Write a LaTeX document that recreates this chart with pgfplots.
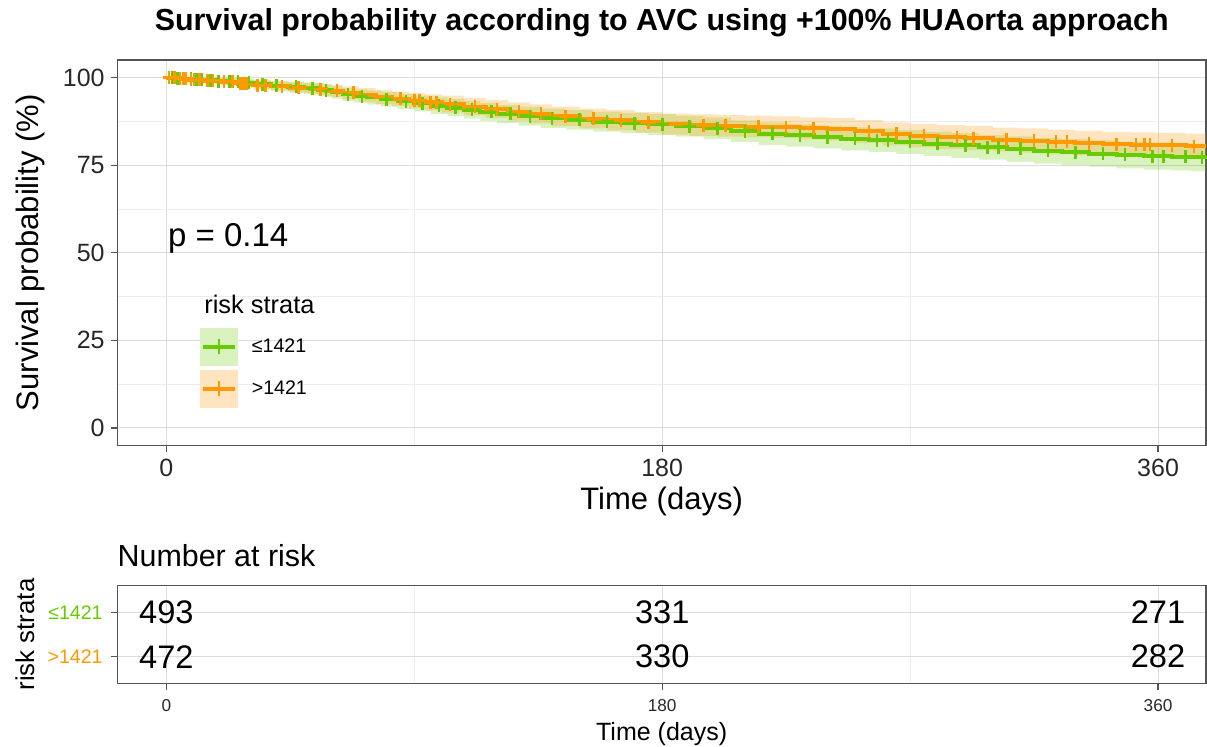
\documentclass[border=0pt]{standalone}
\usepackage{fontspec}
\setmainfont{Liberation Sans}
\usepackage{pgfplots}
\pgfplotsset{compat=1.18}
\usepgfplotslibrary{fillbetween}
\definecolor{cgreen}{RGB}{102,204,0}
\definecolor{corange}{RGB}{255,153,0}
\definecolor{gridc}{RGB}{220,220,220}
\definecolor{gridm}{RGB}{237,237,237}
\definecolor{framec}{RGB}{85,85,85}
\definecolor{tickc}{RGB}{40,40,40}
\begin{document}
\begin{tikzpicture}
% title
\node[anchor=base, font=\bfseries\fontsize{15.2}{18}\selectfont] at (330.85pt,358pt) {Survival probability according to AVC using +100\% HUAorta approach};
\begin{axis}[
  at={(58.65pt,150.75pt)}, anchor=south west, scale only axis,
  width=544.35pt, height=192.75pt,
  xmin=-17.8, xmax=377.4, ymin=-5, ymax=105,
  xtick={0,180,360}, ytick={0,25,50,75,100},
  minor xtick={90,270}, minor ytick={12.5,37.5,62.5,87.5},
  grid=both, major grid style={gridc, line width=0.5pt}, minor grid style={gridm, line width=0.4pt},
  axis line style={framec, line width=0.6pt},
  tick style={framec, line width=0.6pt}, tick align=outside,
  major tick length=3.3pt, minor tick length=0pt,
  xtick pos=lower, ytick pos=left,
  tick label style={font=\fontsize{12.5}{14}\selectfont, text=tickc},
  yticklabel style={xshift=0.5pt},
  /pgf/number format/assume math mode=true,
  xlabel={Time (days)}, ylabel={Survival probability (\%)},
  xlabel style={at={([yshift=-28.25pt]axis description cs:0.5,0)}, anchor=center, font=\fontsize{15.5}{18}\selectfont},
  ylabel style={at={([xshift=-43.65pt]axis description cs:0,0.5)}, anchor=center, font=\fontsize{15.5}{18}\selectfont},
  legend style={at={(axis description cs:0.076,0.3048)}, anchor=north west, draw=none, fill=none,
    inner sep=0pt, outer sep=0pt, row sep=2pt, column sep=7pt,
    nodes={inner sep=0pt}, font=\fontsize{9.8}{11}\selectfont},
  legend cell align=left,
]
% confidence bands
\addplot[name path=gU, draw=none, const plot, forget plot] coordinates {(0,100) (3,100) (6,100) (10,100) (14,100) (18,99.95) (22,99.85) (27,99.65) (32,99.35) (38,99.05) (44,98.8) (50,98.5) (55,98.1) (60,97.6) (64,97.05) (68,96.6) (73,96.3) (78,95.9) (84,95.35) (90,94.85) (96,94.35) (102,93.8) (108,93.3) (114,92.75) (120,92.2) (128,91.7) (136,91.15) (145,90.7) (155,90.25) (165,89.9) (175,89.6) (185,89.1) (195,88.6) (205,87.8) (215,87.2) (225,86.7) (235,86.25) (245,85.8) (255,85.45) (265,85.0) (275,84.55) (285,84.1) (295,83.65) (305,83.2) (315,82.75) (325,82.4) (335,82.05) (345,81.7) (355,81.45) (365,81.3) (372,81.1) (380,81.1)};
\addplot[name path=gL, draw=none, const plot, forget plot] coordinates {(0,100) (3,99.5) (6,99.15) (10,98.7) (14,98.4) (18,98.05) (22,97.75) (27,97.35) (32,96.85) (38,96.35) (44,95.8) (50,95.3) (55,94.7) (60,94.0) (64,93.35) (68,92.8) (73,92.3) (78,91.7) (84,91.05) (90,90.35) (96,89.65) (102,89.0) (108,88.3) (114,87.65) (120,87.0) (128,86.3) (136,85.65) (145,85.1) (155,84.55) (165,84.1) (175,83.6) (185,83.1) (195,82.4) (205,81.6) (215,80.8) (225,80.3) (235,79.75) (245,79.2) (255,78.75) (265,78.2) (275,77.65) (285,77.1) (295,76.55) (305,76.0) (315,75.45) (325,75.0) (335,74.55) (345,74.1) (355,73.75) (365,73.5) (372,73.3) (380,73.3)};
\addplot[cgreen, fill opacity=0.25, draw=none, forget plot] fill between[of=gU and gL];
\addplot[name path=oU, draw=none, const plot, forget plot] coordinates {(0,100) (4,100) (8,100) (14,99.9) (20,99.8) (26,99.3) (32,99.05) (38,98.85) (45,98.6) (52,98.3) (58,97.95) (64,97.45) (70,96.95) (76,96.45) (82,96.0) (88,95.6) (94,95.2) (100,94.8) (108,94.2) (116,93.55) (124,92.9) (132,92.3) (140,91.7) (150,91.15) (160,90.7) (170,90.15) (180,89.7) (190,89.45) (200,89.3) (210,89.1) (220,88.9) (230,88.65) (240,88.4) (250,87.85) (260,87.2) (270,86.75) (280,86.4) (290,86.1) (300,85.7) (310,85.45) (320,85.1) (330,84.8) (340,84.5) (350,84.35) (360,84.2) (370,84.0) (380,84.0)};
\addplot[name path=oL, draw=none, const plot, forget plot] coordinates {(0,100) (4,99.35) (8,98.8) (14,98.3) (20,97.8) (26,97.1) (32,96.55) (38,96.15) (45,95.6) (52,95.1) (58,94.45) (64,93.75) (70,93.05) (76,92.35) (82,91.8) (88,91.2) (94,90.6) (100,90.0) (108,89.2) (116,88.45) (124,87.7) (132,86.9) (140,86.1) (150,85.45) (160,84.9) (170,84.25) (180,83.7) (190,83.35) (200,83.1) (210,82.9) (220,82.7) (230,82.35) (240,82.0) (250,81.35) (260,80.6) (270,80.05) (280,79.6) (290,79.3) (300,78.9) (310,78.55) (320,78.1) (330,77.8) (340,77.5) (350,77.25) (360,77.0) (370,76.8) (380,76.8)};
\addplot[corange, fill opacity=0.25, draw=none, forget plot] fill between[of=oU and oL];
% survival curves
\addplot[cgreen, line width=2pt, const plot, mark=none, forget plot] coordinates {(0,100) (3,99.8) (6,99.6) (10,99.4) (14,99.2) (18,99.0) (22,98.8) (27,98.5) (32,98.1) (38,97.7) (44,97.3) (50,96.9) (55,96.4) (60,95.8) (64,95.2) (68,94.7) (73,94.3) (78,93.8) (84,93.2) (90,92.6) (96,92.0) (102,91.4) (108,90.8) (114,90.2) (120,89.6) (128,89.0) (136,88.4) (145,87.9) (155,87.4) (165,87.0) (175,86.6) (185,86.1) (195,85.5) (205,84.7) (215,84.0) (225,83.5) (235,83.0) (245,82.5) (255,82.1) (265,81.6) (275,81.1) (285,80.6) (295,80.1) (305,79.6) (315,79.1) (325,78.7) (335,78.3) (345,77.9) (355,77.6) (365,77.4) (372,77.2) (380,77.2)};
\addplot[corange, line width=2pt, const plot, mark=none, forget plot] coordinates {(0,100) (4,99.7) (8,99.4) (14,99.1) (20,98.8) (26,98.2) (32,97.8) (38,97.5) (45,97.1) (52,96.7) (58,96.2) (64,95.6) (70,95.0) (76,94.4) (82,93.9) (88,93.4) (94,92.9) (100,92.4) (108,91.7) (116,91.0) (124,90.3) (132,89.6) (140,88.9) (150,88.3) (160,87.8) (170,87.2) (180,86.7) (190,86.4) (200,86.2) (210,86.0) (220,85.8) (230,85.5) (240,85.2) (250,84.6) (260,83.9) (270,83.4) (280,83.0) (290,82.7) (300,82.3) (310,82.0) (320,81.6) (330,81.3) (340,81.0) (350,80.8) (360,80.6) (370,80.4) (380,80.4)};
% censor marks
\addplot[only marks, mark=+, mark size=3.25pt, cgreen, mark options={line width=1.3pt}, forget plot] coordinates {(2,100) (4,99.8) (5,99.8) (7,99.6) (9,99.6) (11,99.4) (13,99.4) (16,99.2) (19,99.0) (23,98.8) (26,98.8) (30,98.5) (35,98.1) (40,97.7) (47,97.3) (53,96.9) (58,96.4) (66,95.2) (71,94.7) (80,93.8) (87,93.2) (93,92.6) (99,92.0) (105,91.4) (111,90.8) (118,90.2) (125,89.6) (132,89.0) (140,88.4) (150,87.9) (160,87.4) (170,87.0) (180,86.6) (190,86.1) (200,85.5) (210,84.7) (220,84.0) (230,83.5) (240,83.0) (250,82.5) (258,82.1) (262,82.1) (270,81.6) (280,81.1) (290,80.6) (298,80.1) (302,80.1) (310,79.6) (320,79.1) (330,78.7) (340,78.3) (348,77.9) (358,77.6) (362,77.6) (370,77.4) (376,77.2)};
\addplot[only marks, mark=+, mark size=3.25pt, corange, mark options={line width=1.3pt}, forget plot] coordinates {(1,100) (3,100) (5,99.7) (6,99.7) (7,99.7) (9,99.4) (10,99.4) (12,99.4) (15,99.1) (17,99.1) (21,98.8) (24,98.8) (27,98.2) (28,98.2) (29,98.2) (33,97.8) (36,97.8) (42,97.5) (48,97.1) (56,96.7) (62,96.2) (68,95.6) (85,93.9) (90,93.4) (92,93.4) (96,92.9) (98,92.9) (103,92.4) (112,91.7) (120,91.0) (128,90.3) (136,89.6) (145,88.9) (155,88.3) (165,87.8) (175,87.2) (195,86.4) (203,86.2) (215,86.0) (225,85.8) (235,85.5) (255,84.6) (265,83.9) (275,83.4) (287,83.0) (293,82.7) (305,82.3) (315,82.0) (323,81.6) (327,81.6) (335,81.3) (345,81.0) (352,80.8) (355,80.8) (357,80.8) (365,80.6) (373,80.4)};
% legend
\addlegendimage{legend image code/.code={
  \fill[cgreen!25] (0pt,-9.25pt) rectangle (18.5pt,9.25pt);
  \draw[cgreen, line width=2pt] (1.4pt,0pt) -- (17.1pt,0pt);
  \draw[cgreen, line width=1.3pt] (9.25pt,-3.75pt) -- (9.25pt,3.75pt);}}
\addlegendentry{≤1421}
\addlegendimage{legend image code/.code={
  \fill[corange!25] (0pt,-9.25pt) rectangle (18.5pt,9.25pt);
  \draw[corange, line width=2pt] (1.4pt,0pt) -- (17.1pt,0pt);
  \draw[corange, line width=1.3pt] (9.25pt,-3.75pt) -- (9.25pt,3.75pt);}}
\addlegendentry{>1421}
\node[anchor=west, font=\fontsize{12.7}{15}\selectfont] at (axis description cs:0.0735,0.3658) {risk strata};
\node[anchor=base west, font=\fontsize{16.5}{19}\selectfont, inner sep=0pt] at (axis cs:0.5,51.9) {p = 0.14};
\end{axis}
% number at risk
\node[anchor=base west, inner sep=0pt, font=\fontsize{15.2}{18}\selectfont] at (58.65pt,90.15pt) {Number at risk};
\begin{axis}[
  at={(58.65pt,31.75pt)}, anchor=south west, scale only axis,
  width=544.35pt, height=49pt,
  xmin=-17.8, xmax=377.4, ymin=0.4, ymax=2.6,
  xtick={0,180,360}, minor xtick={90,270}, ytick={1,2},
  yticklabels={\textcolor{corange}{>1421}, \textcolor{cgreen}{≤1421}},
  grid=both, major grid style={gridc, line width=0.5pt}, minor grid style={gridm, line width=0.4pt},
  axis line style={framec, line width=0.6pt},
  tick style={framec, line width=0.6pt}, tick align=outside,
  major tick length=3.3pt, minor tick length=0pt,
  xtick pos=lower, ytick pos=left,
  xticklabel style={font=\fontsize{8.6}{10}\selectfont, text=tickc, yshift=-1.2pt},
  yticklabel style={font=\fontsize{9.8}{11}\selectfont, xshift=-0.5pt},
  /pgf/number format/assume math mode=true,
  xlabel={Time (days)}, ylabel={risk strata},
  xlabel style={at={([yshift=-25.25pt]axis description cs:0.5,0)}, anchor=center, font=\fontsize{12.5}{15}\selectfont},
  ylabel style={at={([xshift=-46.15pt]axis description cs:0,0.5)}, anchor=center, font=\fontsize{12.9}{15}\selectfont},
]
\addplot[draw=none, mark=none, nodes near coords, point meta=explicit symbolic,
  every node near coord/.style={anchor=center, font=\fontsize{16.3}{19}\selectfont, text=black, inner sep=0pt}]
  table[meta=n] {
x y n
0 2 493
180 2 331
360 2 271
0 1 472
180 1 330
360 1 282
};
\end{axis}
\pgfresetboundingbox
\path[use as bounding box] (0,0) rectangle (603.5pt,373.5pt);
\end{tikzpicture}
\end{document}
